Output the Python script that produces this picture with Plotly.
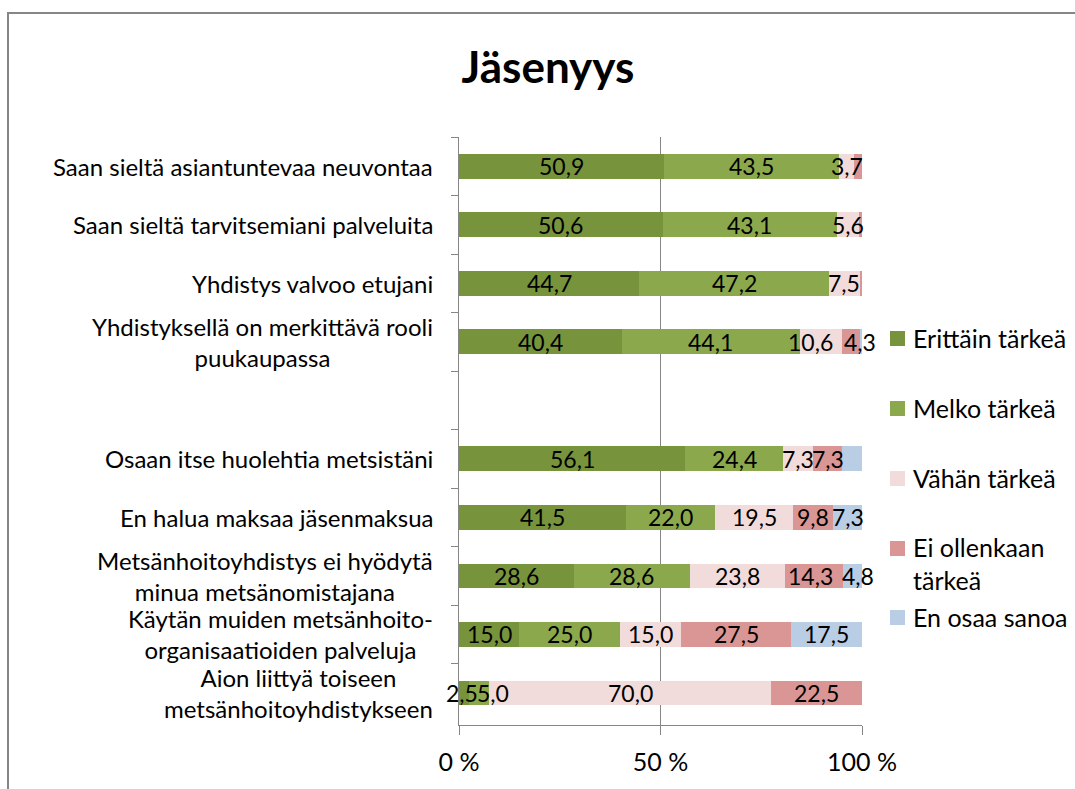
import plotly.graph_objects as go

# Survey categories (top to bottom); the empty entry is a spacer row
categories = [
    "Saan sieltä asiantuntevaa neuvontaa",
    "Saan sieltä tarvitsemiani palveluita",
    "Yhdistys valvoo etujani",
    "Yhdistyksellä on merkittävä rooli<br>puukaupassa",
    "",
    "Osaan itse huolehtia metsistäni",
    "En halua maksaa jäsenmaksua",
    "Metsänhoitoyhdistys ei hyödytä<br>minua metsänomistajana",
    "Käytän muiden metsänhoito-<br>organisaatioiden palveluja",
    "Aion liittyä toiseen<br>metsänhoitoyhdistykseen",
]

series_names = ["Erittäin tärkeä", "Melko tärkeä", "Vähän tärkeä",
                "Ei ollenkaan<br>tärkeä", "En osaa sanoa"]

# Shares (%) per answer option
erittain_tarkea = [50.9, 50.6, 44.7, 40.4, None, 56.1, 41.5, 28.6, 15.0, 2.5]
melko_tarkea = [43.5, 43.1, 47.2, 44.1, None, 24.4, 22.0, 28.6, 25.0, 5.0]
vahan_tarkea = [3.7, 5.6, 7.5, 10.6, None, 7.3, 19.5, 23.8, 15.0, 70.0]
ei_ollenkaan_tarkea = [1.9, 0.7, 0.6, 4.3, None, 7.3, 9.8, 14.3, 27.5, 22.5]
en_osaa_sanoa = [0.0, 0.0, 0.0, 0.6, None, 4.9, 7.3, 4.8, 17.5, 0.0]

x_ticks = [0, 50, 100]
x_tick_labels = ["0 %", "50 %", "100 %"]

series_values = [erittain_tarkea, melko_tarkea, vahan_tarkea,
                 ei_ollenkaan_tarkea, en_osaa_sanoa]
colors = ["#77933C", "#8CA84C", "#F2DCDB", "#D99694", "#B9CDE5"]

# Segments whose value label is left out (series index, row index)
unlabelled = {(3, 0), (3, 1), (3, 2), (4, 0), (4, 1), (4, 2), (4, 3), (4, 5)}
# Horizontal nudges (px) for labels of crowded neighbouring segments
label_shift = {(2, 3): -10, (3, 3): 9, (0, 9): -2, (1, 9): 14,
               (3, 7): -4, (4, 7): 5}

FONT = "Lato"
FS_CAT = 24    # category text
FS = 25        # legend text
FS_LABEL = 23  # value labels

# Plot area in pixels
W, H = 1075, 789
PL, PR, PT, PB = 459, 862, 137, 725


def px_x(px):
    return (px - PL) / (PR - PL)


def px_y(py):
    return (PB - py) / (PB - PT)


cat_keys = [c if c else " " for c in categories]

fig = go.Figure()
for name, vals, col in zip(series_names, series_values, colors):
    fig.add_trace(go.Bar(
        y=cat_keys, x=vals, name=name, orientation="h",
        marker=dict(color=col, line=dict(width=0)),
        showlegend=False, hoverinfo="x+name",
    ))

annotations = []

# Value labels at the middle of each segment
for r, key in enumerate(cat_keys):
    start = 0.0
    for s, vals in enumerate(series_values):
        v = vals[r]
        if v is None:
            continue
        if v > 0 and (s, r) not in unlabelled:
            annotations.append(dict(
                x=start + v / 2, xref="x", y=key, yref="y",
                text=f"{v:.1f}".replace(".", ","),
                xanchor="center", yanchor="middle", showarrow=False,
                xshift=label_shift.get((s, r), 0),
                font=dict(family=FONT, size=FS_LABEL, color="#000000"),
            ))
        start += v

# Category labels, wrapped lines centred
for key, label in zip(cat_keys, categories):
    if label:
        annotations.append(dict(
            x=0, xref="paper", y=key, yref="y", text=label,
            xanchor="right", yanchor="middle", align="center", xshift=-24,
            showarrow=False, font=dict(family=FONT, size=FS_CAT, color="#000000"),
        ))

# Legend
legend_rows = [338, 408, 478, 563, 617]
shapes = []
for name, col, yc in zip(series_names, colors, legend_rows):
    top = yc - 7 if "<br>" not in name else 541
    shapes.append(dict(
        type="rect", xref="paper", yref="paper",
        x0=px_x(890), x1=px_x(905), y0=px_y(top), y1=px_y(top + 15),
        fillcolor=col, line=dict(width=0),
    ))
    annotations.append(dict(
        x=px_x(911), xref="paper", y=px_y(yc), yref="paper", text=name,
        xanchor="left", yanchor="middle", align="left", showarrow=False,
        font=dict(family=FONT, size=FS, color="#000000"),
    ))

# Chart frame
shapes.append(dict(
    type="path", xref="paper", yref="paper",
    path=f"M {px_x(8)},{px_y(800)} L {px_x(8)},{px_y(13)} L {px_x(1090)},{px_y(13)}",
    line=dict(color="#868686", width=2),
))

fig.update_layout(
    width=W, height=H,
    margin=dict(l=PL, r=W - PR, t=PT, b=H - PB),
    paper_bgcolor="white", plot_bgcolor="white",
    barmode="stack", bargap=0.575,
    title=dict(text="<b>Jäsenyys</b>", x=548 / W, xanchor="center",
               y=1 - 68 / H, yanchor="middle", xref="container", yref="container",
               font=dict(family=FONT, size=44, color="#000000")),
    font=dict(family=FONT, size=FS, color="#000000"),
    xaxis=dict(
        range=[0, 100], tickvals=x_ticks, ticktext=x_tick_labels,
        showgrid=True, gridcolor="#868686", gridwidth=1,
        showline=True, linecolor="#868686", linewidth=1,
        ticks="outside", ticklen=9, tickcolor="#868686",
        ticklabelstandoff=6, zeroline=False, fixedrange=True,
    ),
    yaxis=dict(
        type="category", categoryorder="array", categoryarray=cat_keys,
        autorange="reversed", showticklabels=False,
        showline=True, linecolor="#868686", linewidth=1,
        ticks="outside", ticklen=7, tickcolor="#868686", tickson="boundaries",
        showgrid=False, fixedrange=True,
    ),
    annotations=annotations, shapes=shapes,
)

fig.write_html("out.html")
